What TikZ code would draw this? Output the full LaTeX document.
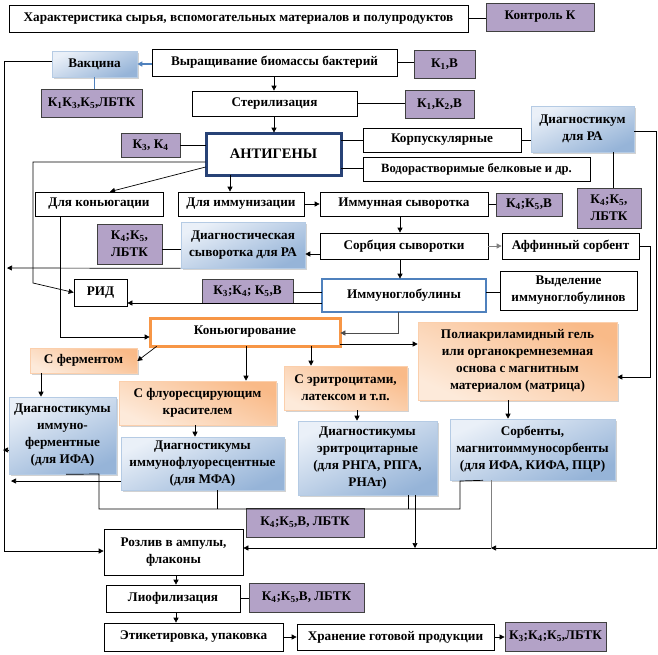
\documentclass[tikz,border=0pt]{standalone}
\usepackage{fontspec}
\setmainfont{Liberation Serif}
\usetikzlibrary{arrows.meta,shadows,calc}
\definecolor{purp}{RGB}{179,162,199}
\definecolor{blueA}{RGB}{234,240,248}
\definecolor{blueB}{RGB}{150,180,216}
\definecolor{orA}{RGB}{249,186,136}
\definecolor{orB}{RGB}{253,234,218}
\definecolor{navy}{RGB}{40,66,118}
\definecolor{midblue}{RGB}{79,129,189}
\definecolor{orline}{RGB}{247,150,70}
\newcommand\sbs[1]{\textsubscript{#1}}
\newcommand\bx[7]{\node[#2, minimum width={(#5)-(#3)}, minimum height={(#6)-(#4)}] (#1) at ({((#3)+(#5))/2},{((#4)+(#6))/2}) {#7};}
\tikzset{
  box/.style={draw=black, line width=0.7pt, fill=white, align=center, inner sep=1pt,
    font=\bfseries\fontsize{13.2}{17}\selectfont},
  pbox/.style={box, fill=purp, draw=black!75, line width=0.8pt},
  bbox/.style={box, draw=blueB!70!white, line width=0.6pt, top color=blueA, bottom color=blueB,
    shading angle=25, drop shadow={shadow xshift=2pt, shadow yshift=-2pt, fill=black!35}},
  obox/.style={box, draw=orA!70!white, line width=0.6pt, top color=orA, bottom color=orB,
    shading angle=-25, drop shadow={shadow xshift=2pt, shadow yshift=-2pt, fill=black!35}},
  conn/.style={draw=black, line width=0.7pt},
  arr/.style={conn, -{Triangle[length=5pt,width=5pt]}},
}
\begin{document}
\begin{tikzpicture}[x=1pt,y=-1pt]
\useasboundingbox (0,0) rectangle (658,654);
% nodes
\bx{har}{box}{9}{5}{468}{32}{Характеристика сырья, вспомогательных материалов и полупродуктов}
\bx{kk}{pbox}{486}{3}{594}{31}{Контроль К}
\bx{vak}{bbox}{52}{51}{137}{77}{Вакцина}
\bx{vyr}{box}{152}{49}{397}{76}{Выращивание  биомассы бактерий}
\bx{kib}{pbox}{414}{50}{475}{78}{К\sbs{1},В}
\bx{kitt}{pbox}{41}{89}{142}{117}{К\sbs{1}К\sbs{3},К\sbs{5},ЛБТК}
\bx{ster}{box}{192}{91}{357}{116}{Стерилизация}
\bx{kikb}{pbox}{405}{90}{474}{118}{К\sbs{1},К\sbs{2},В}
\bx{ant}{box}{206}{133}{341}{175}{\fontsize{14.5}{16}\selectfont АНТИГЕНЫ}
\node[draw=navy, line width=3pt, minimum width=135, minimum height=42] at (273.5,154) {};
\bx{kth}{pbox}{121}{133}{180}{157}{К\sbs{3}, К\sbs{4}}
\bx{korp}{box}{363}{128}{521}{152}{Корпускулярные}
\bx{vodo}{box}{363}{157}{590}{181}{\fontsize{12.6}{16}\selectfont Водорастворимые белковые и др.}
\bx{diagra}{bbox}{531}{106}{634}{152}{Диагностикум\\для РА}
\bx{kfa}{pbox}{577}{188}{641}{228}{К\sbs{4};К\sbs{5},\\ЛБТК}
\bx{dlk}{box}{35}{192}{163}{216}{Для коньюгации}
\bx{dli}{box}{178}{192}{304}{216}{Для иммунизации}
\bx{ims}{box}{320}{192}{488}{216}{Иммунная сыворотка}
\bx{kfb}{pbox}{496}{193}{562}{216}{К\sbs{4};К\sbs{5},В}
\bx{sorb}{box}{320}{233}{488}{259}{Сорбция сыворотки}
\bx{aff}{box}{502}{233}{639}{259}{Аффинный  сорбент}
\bx{dsra}{bbox}{181}{222}{305}{268}{Диагностическая\\сыворотка для РА}
\bx{kfc}{pbox}{97}{224}{162}{264}{К\sbs{4};К\sbs{5},\\ЛБТК}
\bx{rid}{box}{74}{279}{127}{306}{РИД}
\bx{img}{box}{322}{279}{486}{312}{Иммуноглобулины}
\node[draw=midblue, line width=2.5pt, minimum width=164, minimum height=33] at (404,295.5) {};
\bx{kttf}{pbox}{202}{279}{293}{303}{К\sbs{3};К\sbs{4}; К\sbs{5},В}
\bx{vyd}{box}{500}{271}{637}{310}{Выделение\\иммуноглобулинов}
\bx{kon}{box}{150}{318}{340}{346}{Коньюгирование}
\node[draw=orline, line width=3pt, minimum width=190, minimum height=28] at (245,332) {};
\bx{poli}{obox}{418}{322}{617}{400}{Полиакриламидный  гель\\или  органокремнеземная\\основа с магнитным\\материалом (матрица)}
\bx{sfer}{obox}{30}{348}{137}{373}{С ферментом}
\bx{sflu}{obox}{119}{381}{276}{425}{С флуоресцирующим\\красителем}
\bx{seri}{obox}{284}{366}{407}{410}{С эритроцитами,\\латексом и т.п.}
\bx{difa}{bbox}{9}{397}{116}{474}{Диагностикумы\\иммуно-\\ферментные\\(для ИФА)}
\bx{dmfa}{bbox}{121}{437}{284}{490}{Диагностикумы\\иммунофлуоресцентные\\(для МФА)}
\bx{deri}{bbox}{298}{421}{437}{495}{Диагностикумы\\эритроцитарные\\(для РНГА, РПГА,\\РНАт)}
\bx{sorbm}{bbox}{450}{419}{615}{480}{Сорбенты,\\магнитоиммуносорбенты\\(для ИФА, КИФА, ПЦР)}
\bx{kfd}{pbox}{246}{508}{364}{537}{К\sbs{4};К\sbs{5},В, ЛБТК}
\bx{rozl}{box}{104}{529}{243}{575}{Розлив в ампулы,\\флаконы}
\bx{liof}{box}{106}{585}{240}{612}{Лиофилизация}
\bx{kfe}{pbox}{249}{583}{364}{612}{К\sbs{4};К\sbs{5},В, ЛБТК}
\bx{etik}{box}{104}{623}{283}{651}{Этикетировка, упаковка}
\bx{hran}{box}{297}{624}{494}{650}{Хранение  готовой продукции}
\bx{kttl}{pbox}{505}{622}{606}{651}{К\sbs{3};К\sbs{4};К\sbs{5},ЛБТК}
% connectors
\draw[conn] (har.east) -- (kk.west |- har.east);
\draw[arr, draw=midblue, line width=1.2pt] (vyr.west |- vak.east) -- (vak.east);
\draw[conn] (vyr.east) -- (kib.west |- vyr.east);
\draw[conn, draw=midblue, line width=1.2pt] (vak.south) -- (kitt.north -| vak.south);
\draw[arr] (vak.west |- 0,61) -- (4,61) -- (4,551) -- (rozl.west |- 0,551);
\draw[arr] (vyr.south -| 274,0) -- (ster.north -| 274,0);
\draw[conn] (ster.east) -- (kikb.west |- ster.east);
\draw[arr] (ster.south -| 274,0) -- (ant.north -| 274,0);
\draw[conn] (kth.east) -- (ant.west |- kth.east);
\draw[conn] (ant.east |- 0,140) -- (korp.west |- 0,140);
\draw[conn] (ant.east |- 0,168) -- (vodo.west |- 0,168);
\draw[conn] (korp.east) -- (diagra.west |- korp.east);
\draw[conn] (diagra.south -| 613,0) -- (kfa.north -| 613,0);
\draw[arr] (diagra.east |- 0,131) -- (656,131) -- (656,548) -- (491,548);
\draw[arr] (491,548) -- (rozl.east |- 0,548);
\draw[arr] (ant.west |- 0,167) -- (dlk.north -| 110,0);
\draw[arr] (ant.south -| 230,0) -- (dli.north -| 230,0);
\draw[arr] (ant.west |- 0,162) -- (33,162) -- (33,283) -- (rid.west);
\draw[arr] (dlk.south -| 60,0) -- (60,337) -- (kon.west |- 0,337);
\draw[arr] (dli.east) -- (ims.west);
\draw[conn] (ims.east) -- (kfb.west |- ims.east);
\draw[arr] (ims.south -| 400,0) -- (sorb.north -| 400,0);
\draw[arr, draw=gray] (sorb.east) -- (aff.west);
\draw[arr] (sorb.west |- 0,254) -- (dsra.east |- 0,254);
\draw[conn] (kfc.east |- 0,249) -- (dsra.west |- 0,249);
\draw[arr] (dsra.south west) -- (7,268);
\draw[arr] (aff.east) -- (650,246) -- (650,377) -- (poli.east |- 0,377);
\draw[arr] (sorb.south -| 400,0) -- (img.north -| 400,0);
\draw[conn] (kttf.east |- 0,292) -- (img.west |- 0,292);
\draw[conn] (img.east |- 0,292) -- (vyd.west |- 0,292);
\draw[arr] (img.west |- 0,303) -- (rid.east |- 0,303);
\draw[arr, draw=black!70] (img.south -| 398,0) -- (398,333) -- (kon.east |- 0,333);
\draw[arr] (kon.east |- 0,344) -- (poli.west |- 0,344);
\draw[arr] ([xshift=7pt]kon.south west) -- (sfer.east |- 0,361);
\draw[arr] (kon.south -| 246,0) -- (sflu.north -| 246,0);
\draw[arr] (kon.south -| 311,0) -- (seri.north -| 311,0);
\draw[arr] (sfer.south -| 41,0) -- (difa.north -| 41,0);
\draw[arr] (sflu.south -| 195,0) -- (dmfa.north -| 195,0);
\draw[arr] (seri.south -| 357,0) -- (deri.north -| 357,0);
\draw[arr] (poli.south -| 508,0) -- (sorbm.north -| 508,0);
\draw[arr] (difa.west |- 0,450) -- (3,450);
\draw[arr] (dmfa.west |- 0,481) -- (11,481);
\draw[conn] (difa.south -| 66,0) -- (99,474) -- (99,509) -- (460,509) -- (460,481) -- (sorbm.south -| 483,0);
\draw[conn] (dmfa.south -| 217,0) -- (217,509);
\draw[conn] (deri.south -| 408,0) -- (408,509);
\draw[arr] (deri.south -| 415,0) -- (415,548);
\draw[conn, draw=gray] (sorbm.south -| 491,0) -- (491,548);
\draw[arr] (rozl.south -| 176,0) -- (liof.north -| 176,0);
\draw[conn] (liof.east) -- (kfe.west |- liof.east);
\draw[arr] (liof.south -| 176,0) -- (etik.north -| 176,0);
\draw[arr] (etik.east) -- (hran.west |- etik.east);
\draw[arr] (hran.east) -- (kttl.west |- hran.east);
\end{tikzpicture}
\end{document}
